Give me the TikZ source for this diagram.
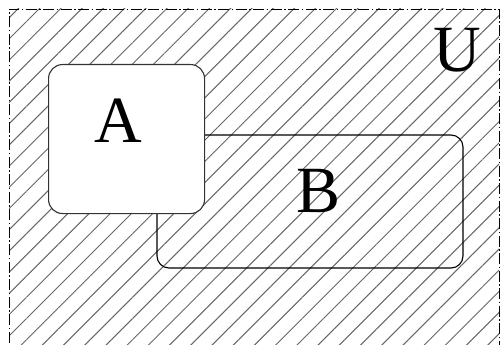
\documentclass[tikz,border=0pt]{standalone}
\usepackage{fontspec}
\setmainfont{Liberation Serif}
\usetikzlibrary{patterns.meta}
\begin{document}
\begin{tikzpicture}[x=1pt,y=-1pt,
  hatch/.style={pattern={Lines[angle=45,distance=15pt,line width=1pt]},pattern color=black!60},
  setbox/.style={draw,rounded corners=14pt,line width=1.1pt},
  lbl/.style={font=\fontsize{66}{66}\selectfont,inner sep=0pt}]
\useasboundingbox (0,0) rectangle (501,345);
\fill[hatch] (9,9) rectangle (499,360);
\draw[line width=0.9pt,dash pattern=on 11pt off 2.5pt on 1.5pt off 2.5pt] (9,360) -- (9,9) -- (499,9) -- (499,360);
\draw[setbox,rounded corners=12pt] (157,135) rectangle (463,268);
\node[setbox,fill=white,draw=black!80,minimum width=156pt,minimum height=149pt,anchor=north west] (A) at (48,64) {};
\node[lbl] (la) at (118,121) {A};
\node[lbl] (lb) at (319,191) {B};
\node[lbl] (lu) at (457,50) {U};
\end{tikzpicture}
\end{document}
